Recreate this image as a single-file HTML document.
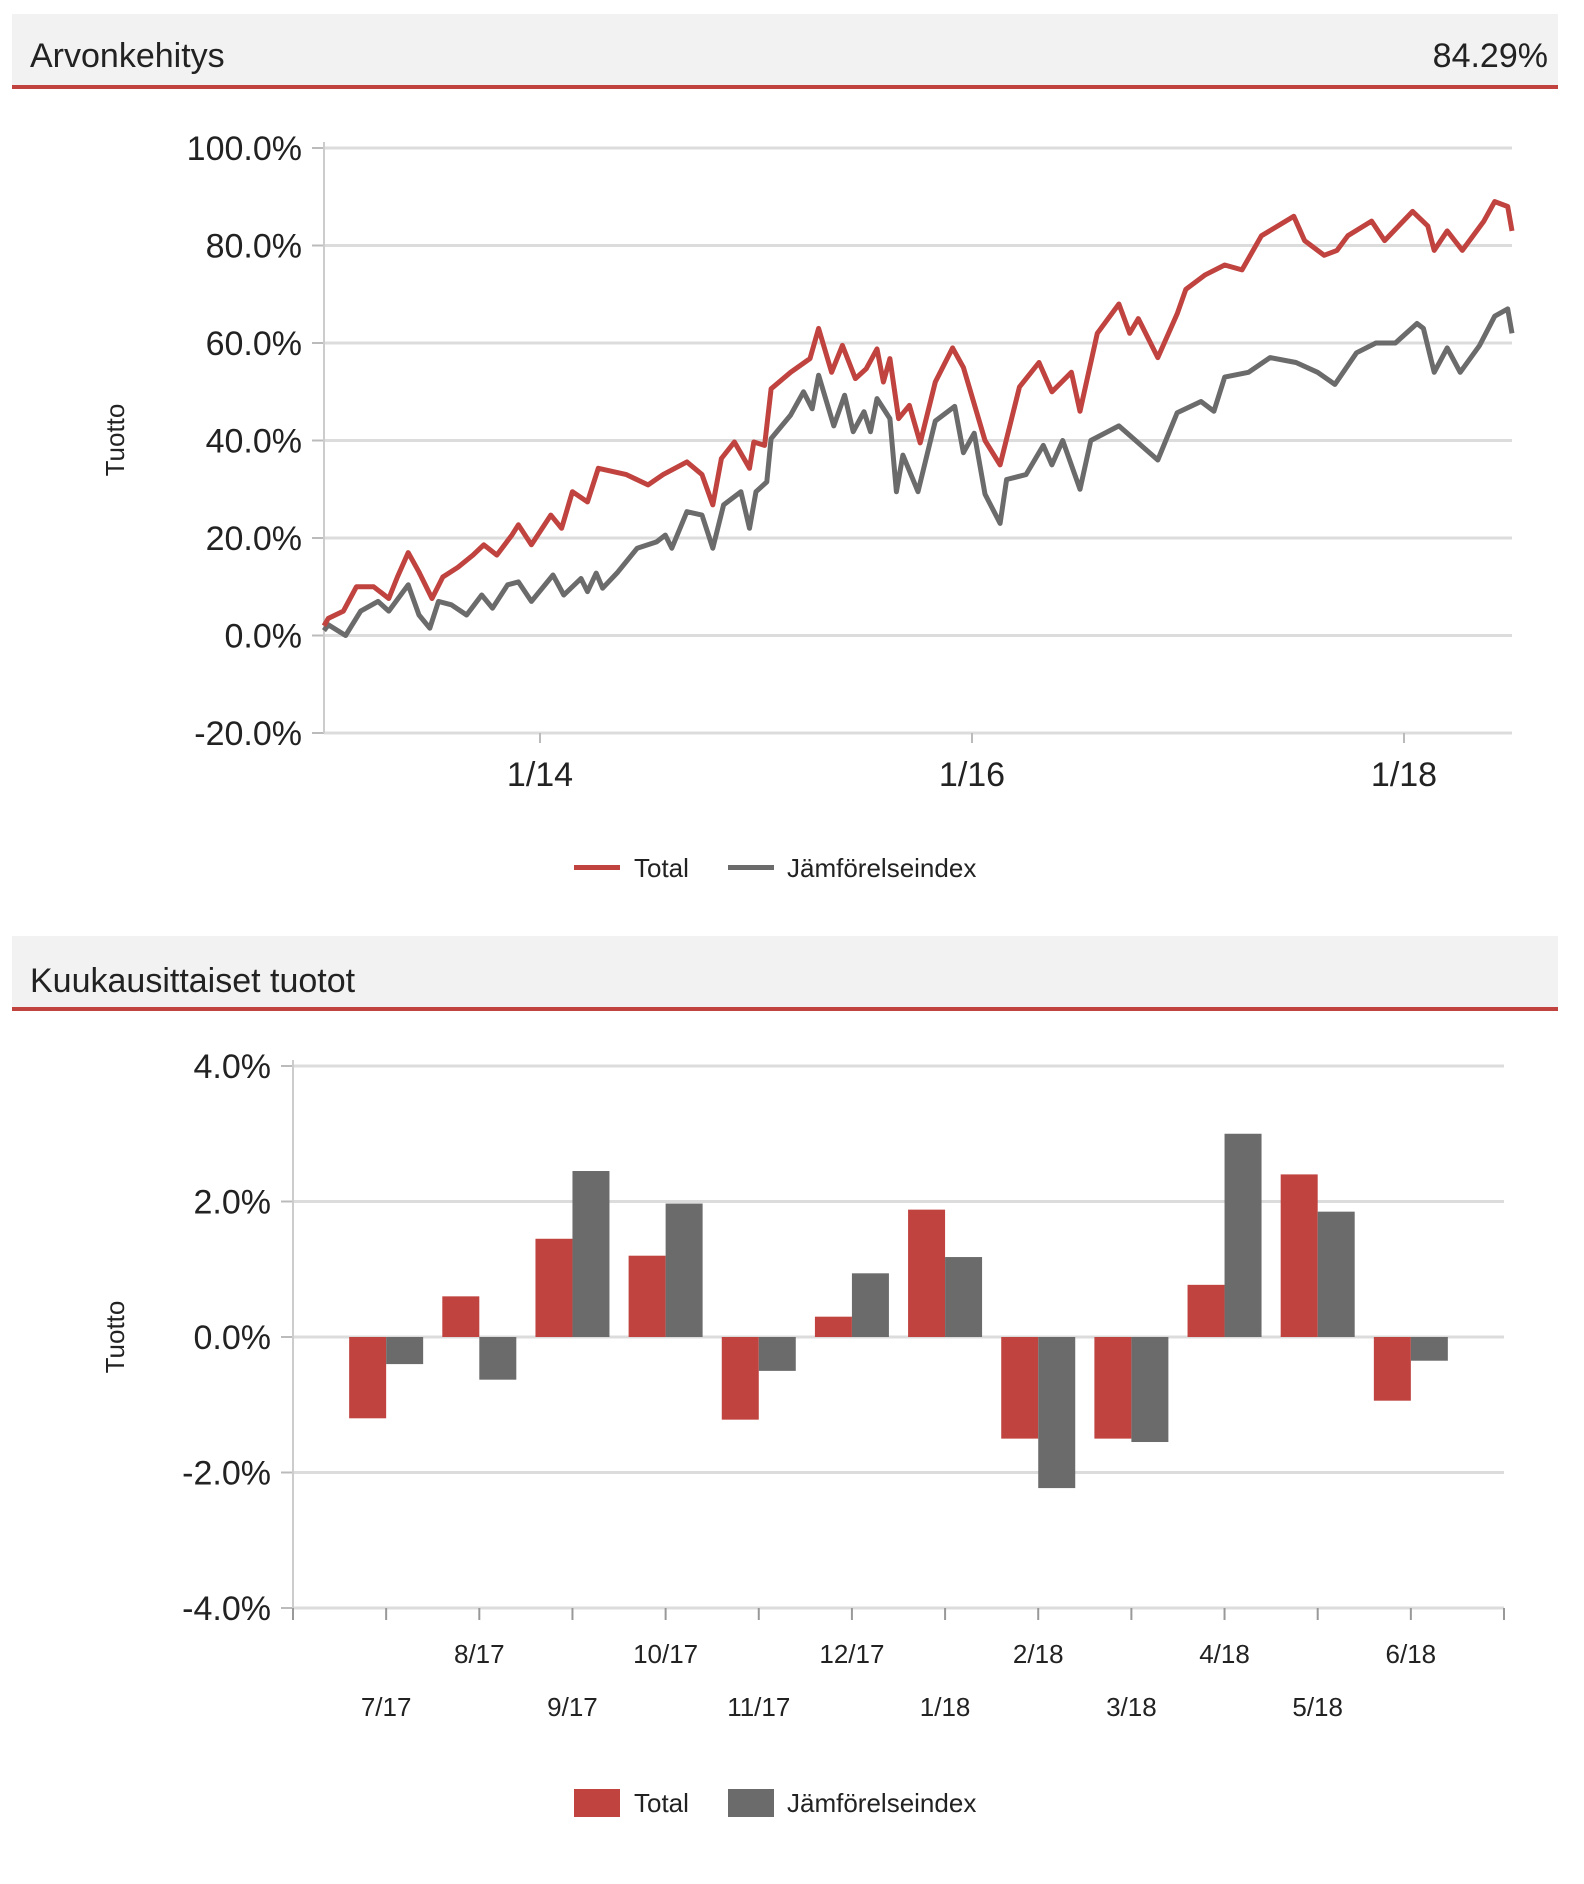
<!DOCTYPE html>
<html><head><meta charset="utf-8"><style>
html,body{margin:0;padding:0;background:#fff;}
svg{display:block;font-family:"Liberation Sans",sans-serif;}
</style></head><body>
<svg id="root" width="1584" height="1884" viewBox="0 0 1584 1884" xmlns="http://www.w3.org/2000/svg">
  <g>
    <rect x="12" y="14" width="1546" height="72" fill="#f2f2f2"/>
    <rect x="12" y="85" width="1546" height="4" fill="#c0433f"/>
    <text x="30" y="67" font-size="34" fill="#222">Arvonkehitys</text>
    <text x="1548" y="67" font-size="34" fill="#222" text-anchor="end">84.29%</text>
  </g>
  <g id="lineChart"></g>
  <g>
    <rect x="12" y="936" width="1546" height="72" fill="#f2f2f2"/>
    <rect x="12" y="1007" width="1546" height="4" fill="#c0433f"/>
    <text x="30" y="992" font-size="34" fill="#222">Kuukausittaiset tuotot</text>
  </g>
  <g id="barChart"></g>
</svg>
<script>
// ---- Line chart data (dates as years since 1/2013, values in %) ----
const totalDates = [0,0.02,0.09,0.15,0.23,0.30,0.34,0.39,0.44,0.50,0.55,0.62,0.69,0.74,0.80,0.87,0.90,0.96,1.05,1.10,1.15,1.22,1.27,1.40,1.50,1.57,1.68,1.75,1.80,1.84,1.90,1.97,1.99,2.04,2.07,2.16,2.25,2.29,2.35,2.40,2.46,2.51,2.56,2.59,2.62,2.66,2.71,2.76,2.83,2.91,2.96,3.06,3.13,3.22,3.31,3.37,3.46,3.50,3.58,3.68,3.73,3.77,3.86,3.95,3.99,4.08,4.17,4.25,4.34,4.49,4.54,4.63,4.69,4.74,4.85,4.91,5.04,5.11,5.14,5.20,5.27,5.37,5.42,5.48,5.50];
const totalValues = [2,3.5,5,10,10,7.6,12,17,13,7.6,12,14,16.5,18.6,16.5,20.6,22.7,18.6,24.7,22,29.5,27.4,34.3,33,30.9,33,35.6,33,26.8,36.3,39.7,34.3,39.7,39,50.6,54,56.8,63,54,59.5,52.7,54.7,58.8,52,56.8,44.5,47.2,39.5,52,59,55,40,35,51,56,50,54,46,62,68,62,65,57,66,71,74,76,75,82,86,81,78,79,82,85,81,87,84,79,83,79,85,89,88,83];
const indexDates = [0,0.02,0.10,0.17,0.25,0.30,0.39,0.44,0.49,0.53,0.59,0.66,0.73,0.78,0.85,0.90,0.96,1.06,1.11,1.19,1.22,1.26,1.29,1.36,1.45,1.54,1.58,1.61,1.68,1.75,1.80,1.85,1.93,1.97,2.00,2.05,2.07,2.16,2.22,2.26,2.29,2.36,2.41,2.45,2.50,2.53,2.56,2.62,2.65,2.68,2.75,2.83,2.92,2.96,3.01,3.06,3.13,3.16,3.25,3.33,3.37,3.42,3.50,3.55,3.68,3.77,3.86,3.95,4.06,4.12,4.17,4.28,4.38,4.50,4.60,4.68,4.78,4.87,4.96,5.06,5.09,5.14,5.20,5.26,5.35,5.42,5.48,5.50];
const indexValues = [1,2.2,0,5,7,5,10.4,4.2,1.5,7,6.3,4.2,8.3,5.6,10.4,11,7,12.4,8.3,11.7,9,12.8,9.7,13,17.9,19.2,20.6,17.9,25.4,24.7,17.9,26.8,29.5,22,29.5,31.5,40.4,45.2,50,46.5,53.4,43,49.3,41.8,45.9,41.8,48.6,44.5,29.5,37,29.5,44,47,37.5,41.5,29,23,32,33,39,35,40,30,40,43,39.5,36,45.7,48,46,53,54,57,56,54,51.5,58,60,60,64,63,54,59,54,59.5,65.5,67,62];
const lineYTicks = [100,80,60,40,20,0,-20];
const lineXTickYears = [1,3,5];
const lineXTickLabels = ["1/14","1/16","1/18"];

// ---- Bar chart data ----
const months = ["7/17","8/17","9/17","10/17","11/17","12/17","1/18","2/18","3/18","4/18","5/18","6/18"];
const monthlyTotal = [-1.2,0.6,1.45,1.2,-1.22,0.3,1.88,-1.5,-1.5,0.77,2.4,-0.94];
const monthlyIndex = [-0.4,-0.63,2.45,1.97,-0.5,0.94,1.18,-2.23,-1.55,3.0,1.85,-0.35];
const barYTicks = [4,2,0,-2,-4];

const NS = "http://www.w3.org/2000/svg";
const RED = "#c0433f", GRAY = "#6b6b6b";
function mk(tag, attrs, parent, text){
  const e = document.createElementNS(NS, tag);
  for (const k in attrs) e.setAttribute(k, attrs[k]);
  if (text !== undefined) e.textContent = text;
  parent.appendChild(e);
  return e;
}

// ===== Line chart =====
(function(){
  const g = document.getElementById("lineChart");
  const x0 = 324, x1 = 1512, yTop = 148, yBot = 733;
  const xs = t => x0 + t / 5.5 * (x1 - x0);
  const ys = v => yBot - (v + 20) / 120 * (yBot - yTop);
  lineYTicks.forEach(v => {
    const y = ys(v);
    const gl = mk("line", {x1: x0, x2: x1, y1: y, y2: y, stroke: "#dcdcdc", "stroke-width": 3}, g);
    
    
    const tk = mk("line", {x1: x0 - 12, x2: x0, y1: y, y2: y, stroke: "#bbb", "stroke-width": 2}, g);
    
    
    const lb = mk("text", {x: x0 - 22, y: y + 12, "font-size": 34, fill: "#222", "text-anchor": "end"}, g, v.toFixed(1) + "%");
    
    
  });
  const ax = mk("line", {x1: x0, x2: x0, y1: yTop - 6, y2: yBot, stroke: "#ccc", "stroke-width": 2}, g);
  
  
  lineXTickYears.forEach((t, i) => {
    const x = xs(t);
    const tk = mk("line", {x1: x, x2: x, y1: yBot, y2: yBot + 10, stroke: "#bbb", "stroke-width": 2}, g);
    
    
    const lb = mk("text", {x: x, y: yBot + 53, "font-size": 34, fill: "#222", "text-anchor": "middle"}, g, lineXTickLabels[i]);
    
    
  });
  const yt = mk("text", {x: 0, y: 0, "font-size": 26, fill: "#222", "text-anchor": "middle", transform: "translate(124,440) rotate(-90)"}, g, "Tuotto");
  
  
  function path(dates, vals){
    return dates.map((t, i) => (i ? "L" : "M") + xs(t).toFixed(1) + "," + ys(vals[i]).toFixed(1)).join("");
  }
  const pi = mk("path", {d: path(indexDates, indexValues), fill: "none", stroke: GRAY, "stroke-width": 5, "stroke-linejoin": "round"}, g);
  
  
  const pt = mk("path", {d: path(totalDates, totalValues), fill: "none", stroke: RED, "stroke-width": 5, "stroke-linejoin": "round"}, g);
  
  
  const l1 = mk("rect", {x: 574, y: 865, width: 46, height: 5, fill: RED}, g);
  
  
  const t1 = mk("text", {x: 634, y: 877, "font-size": 26, fill: "#222"}, g, "Total");
  
  
  const l2 = mk("rect", {x: 728, y: 865, width: 46, height: 5, fill: GRAY}, g);
  
  
  const t2 = mk("text", {x: 787, y: 877, "font-size": 26, fill: "#222"}, g, "Jämförelseindex");
  
  
})();

// ===== Bar chart =====
(function(){
  const g = document.getElementById("barChart");
  const x0 = 293, x1 = 1504, yTop = 1066, yBot = 1608;
  const slot = (x1 - x0) / (months.length + 1);
  const xs = i => x0 + (i + 1) * slot;
  const ys = v => yBot - (v + 4) / 8 * (yBot - yTop);
  const bw = 37;
  barYTicks.forEach(v => {
    const y = ys(v);
    const gl = mk("line", {x1: x0, x2: x1, y1: y, y2: y, stroke: "#dcdcdc", "stroke-width": 3}, g);
    
    
    const tk = mk("line", {x1: x0 - 12, x2: x0, y1: y, y2: y, stroke: "#bbb", "stroke-width": 2}, g);
    
    
    const lb = mk("text", {x: x0 - 22, y: y + 12, "font-size": 34, fill: "#222", "text-anchor": "end"}, g, v.toFixed(1) + "%");
    
    
  });
  const ax = mk("line", {x1: x0, x2: x0, y1: yTop - 6, y2: yBot, stroke: "#ccc", "stroke-width": 2}, g);
  
  
  for (let i = -1; i <= months.length; i++) {
    const x = xs(i);
    const tk = mk("line", {x1: x, x2: x, y1: yBot, y2: yBot + 12, stroke: "#999", "stroke-width": 2}, g);
    
    
  }
  months.forEach((m, i) => {
    const x = xs(i);
    const lb = mk("text", {x: x, y: (i % 2 === 0) ? 1716 : 1663, "font-size": 26, fill: "#222", "text-anchor": "middle"}, g, m);
    
    
    const z = ys(0);
    const vt = monthlyTotal[i], vi = monthlyIndex[i];
    const rt = mk("rect", {x: x - bw, y: Math.min(z, ys(vt)), width: bw, height: Math.abs(ys(vt) - z), fill: RED}, g);
    
    
    const ri = mk("rect", {x: x, y: Math.min(z, ys(vi)), width: bw, height: Math.abs(ys(vi) - z), fill: GRAY}, g);
    
    
  });
  const yt = mk("text", {x: 0, y: 0, "font-size": 26, fill: "#222", "text-anchor": "middle", transform: "translate(124,1337) rotate(-90)"}, g, "Tuotto");
  
  
  const l1 = mk("rect", {x: 574, y: 1789, width: 46, height: 28, fill: RED}, g);
  
  
  const t1 = mk("text", {x: 634, y: 1812, "font-size": 26, fill: "#222"}, g, "Total");
  
  
  const l2 = mk("rect", {x: 728, y: 1789, width: 46, height: 28, fill: GRAY}, g);
  
  
  const t2 = mk("text", {x: 787, y: 1812, "font-size": 26, fill: "#222"}, g, "Jämförelseindex");
  
  
})();
</script>
</body></html>
